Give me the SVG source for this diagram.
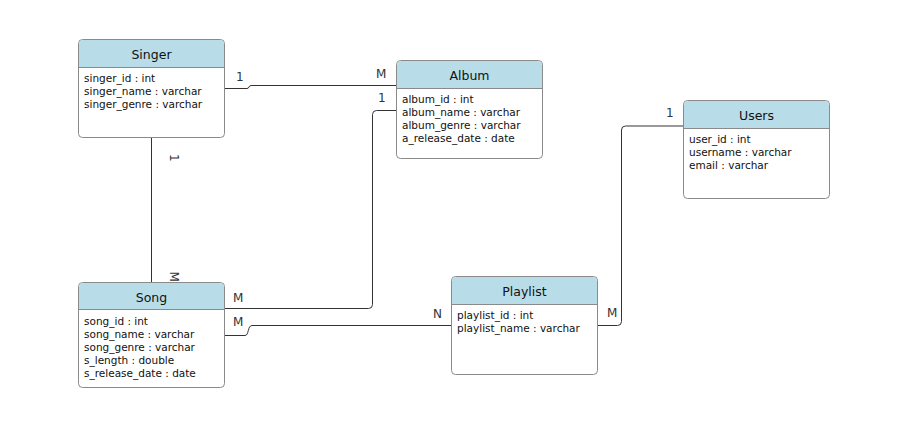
<svg xmlns="http://www.w3.org/2000/svg" width="904" height="445" viewBox="0 0 904 445">
<style>
.box{fill:#ffffff;stroke:#8a8a8a;stroke-width:1}
.hdr{fill:#b8dde8}
.sep{stroke:#8a8a8a;stroke-width:1}
.title{font-family:"DejaVu Sans",Verdana,sans-serif;font-size:12.5px;fill:#111;text-anchor:middle}
.attr{font-family:"DejaVu Sans",Verdana,sans-serif;font-size:10.5px;fill:#111}
.lbl{font-family:"DejaVu Sans",Verdana,sans-serif;font-size:12px;fill:#333}
.edge{fill:none;stroke:#333;stroke-width:1}
</style>
<rect width="904" height="445" fill="#ffffff"/>
<g id="connectors">
<path class="edge" d="M225,88.5 H247 C249.5,88.5 248.5,85.5 251,85.5 H396"/>
<path class="edge" d="M396,110.5 H376.5 Q372.5,110.5 372.5,114.5 V304.5 Q372.5,308.5 368.5,308.5 H225"/>
<path class="edge" d="M151.5,138 V282"/>
<path class="edge" d="M225,335.5 H245 C249,335.5 247.5,325.5 252,325.5 H451"/>
<path class="edge" d="M598,325.5 H617.5 Q621.5,325.5 621.5,321.5 V130 Q621.5,126 625.5,126 H683"/>
<text class="lbl" x="236" y="81">1</text>
<text class="lbl" x="376" y="77.5">M</text>
<text class="lbl" x="378" y="102">1</text>
<text class="lbl" transform="rotate(90 169.5 154)" x="169.5" y="154">1</text>
<text class="lbl" transform="rotate(90 169.5 271.5)" x="169.5" y="271.5">M</text>
<text class="lbl" x="233" y="301.5">M</text>
<text class="lbl" x="233" y="326">M</text>
<text class="lbl" x="433" y="317.5">N</text>
<text class="lbl" x="607" y="317">M</text>
<text class="lbl" x="666" y="116.5">1</text>
</g>
<g id="singer">
<rect class="box" x="78.5" y="39.5" width="146" height="98" rx="4"/>
<path class="hdr" d="M79,67.5 V44 Q79,40 83,40 H220 Q224,40 224,44 V67.5 Z"/>
<line class="sep" x1="78.5" y1="67.5" x2="224.5" y2="67.5"/>
<text class="title" x="151.5" y="58.5">Singer</text>
<text class="attr" x="84" y="82">singer_id : int</text>
<text class="attr" x="84" y="95">singer_name : varchar</text>
<text class="attr" x="84" y="108">singer_genre : varchar</text>
</g>
<g id="album">
<rect class="box" x="396.5" y="60.5" width="146" height="98" rx="4"/>
<path class="hdr" d="M397,88.5 V65 Q397,61 401,61 H538 Q542,61 542,65 V88.5 Z"/>
<line class="sep" x1="396.5" y1="88.5" x2="542.5" y2="88.5"/>
<text class="title" x="469.5" y="79.5">Album</text>
<text class="attr" x="402" y="103">album_id : int</text>
<text class="attr" x="402" y="116">album_name : varchar</text>
<text class="attr" x="402" y="129">album_genre : varchar</text>
<text class="attr" x="402" y="142">a_release_date : date</text>
</g>
<g id="users">
<rect class="box" x="683.5" y="100.5" width="146" height="98" rx="4"/>
<path class="hdr" d="M684,128.5 V105 Q684,101 688,101 H825 Q829,101 829,105 V128.5 Z"/>
<line class="sep" x1="683.5" y1="128.5" x2="829.5" y2="128.5"/>
<text class="title" x="756.5" y="119.5">Users</text>
<text class="attr" x="689" y="143">user_id : int</text>
<text class="attr" x="689" y="156">username : varchar</text>
<text class="attr" x="689" y="169">email : varchar</text>
</g>
<g id="song">
<rect class="box" x="78.5" y="282.5" width="146" height="105" rx="4"/>
<path class="hdr" d="M79,309.5 V287 Q79,283 83,283 H220 Q224,283 224,287 V309.5 Z"/>
<line class="sep" x1="78.5" y1="309.5" x2="224.5" y2="309.5"/>
<text class="title" x="151.5" y="301.5">Song</text>
<text class="attr" x="84" y="325">song_id : int</text>
<text class="attr" x="84" y="338">song_name : varchar</text>
<text class="attr" x="84" y="351">song_genre : varchar</text>
<text class="attr" x="84" y="364">s_length : double</text>
<text class="attr" x="84" y="377">s_release_date : date</text>
</g>
<g id="playlist">
<rect class="box" x="451.5" y="276.5" width="146" height="98" rx="4"/>
<path class="hdr" d="M452,304.5 V281 Q452,277 456,277 H593 Q597,277 597,281 V304.5 Z"/>
<line class="sep" x1="451.5" y1="304.5" x2="597.5" y2="304.5"/>
<text class="title" x="524.5" y="295.5">Playlist</text>
<text class="attr" x="457" y="319">playlist_id : int</text>
<text class="attr" x="457" y="332">playlist_name : varchar</text>
</g>
</svg>
